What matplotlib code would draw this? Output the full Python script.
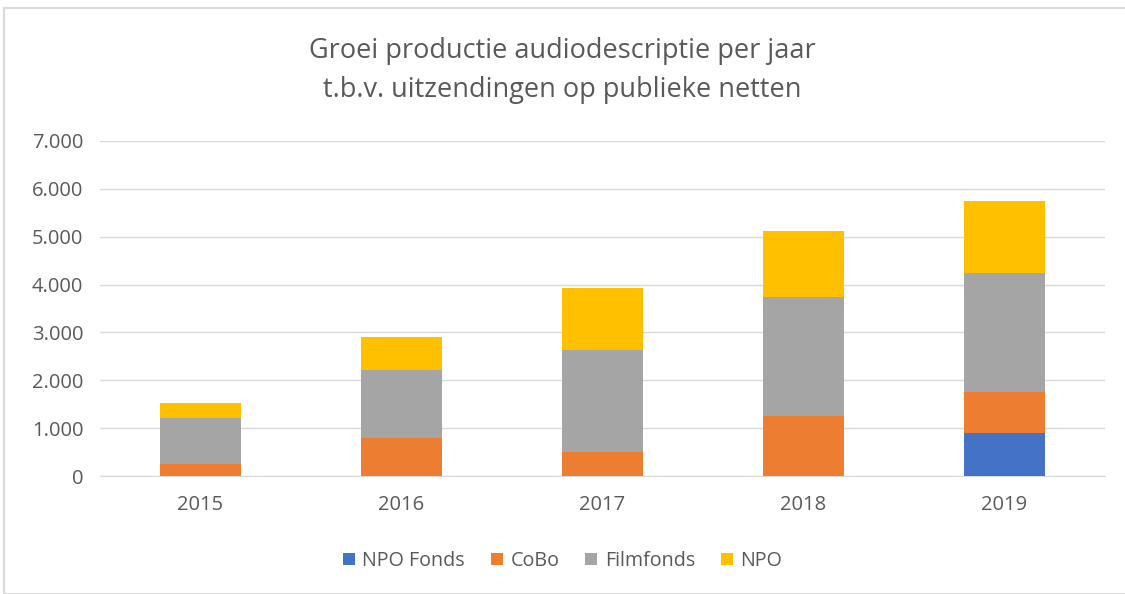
import matplotlib.pyplot as plt
import numpy as np
from matplotlib.patches import Rectangle

plt.rcParams['font.family'] = ['Open Sans', 'DejaVu Sans']

jaren = ['2015', '2016', '2017', '2018', '2019']
npo_fonds = [0, 0, 0, 0, 890]
cobo = [245, 800, 510, 1260, 860]
filmfonds = [965, 1420, 2120, 2470, 2490]
npo = [320, 680, 1290, 1390, 1500]

series = [('NPO Fonds', npo_fonds, '#4472C4'),
          ('CoBo', cobo, '#ED7D31'),
          ('Filmfonds', filmfonds, '#A5A5A5'),
          ('NPO', npo, '#FFC000')]

fig = plt.figure(figsize=(11.25, 5.94), dpi=100)
ax = fig.add_axes([100 / 1125, 1 - 476 / 594, 1005 / 1125, 335 / 594])

x = np.arange(len(jaren))
bottom = np.zeros(len(jaren))
for naam, waarden, kleur in series:
    ax.bar(x, waarden, width=0.4, bottom=bottom, color=kleur, label=naam, zorder=3)
    bottom += np.array(waarden)

ax.set_xlim(-0.5, 4.5)
ax.set_ylim(0, 7000)
ax.set_yticks(range(0, 7001, 1000))
ax.set_yticklabels(['{:,}'.format(v).replace(',', '.') for v in range(0, 7001, 1000)])
ax.set_xticks(x)
ax.set_xticklabels(jaren)
ax.tick_params(axis='both', length=0, labelsize=14.5, colors='#595959')
ax.tick_params(axis='x', pad=14)
ax.tick_params(axis='y', pad=12)
ax.grid(axis='y', color='#D9D9D9', linewidth=1, zorder=0)
for s in ['top', 'right', 'left']:
    ax.spines[s].set_visible(False)
ax.spines['bottom'].set_color('#D9D9D9')

fig.text(0.5, 1 - 51 / 594, 'Groei productie audiodescriptie per jaar', ha='center', va='center',
         fontsize=19.5, color='#595959')
fig.text(0.5, 1 - 90 / 594, 't.b.v. uitzendingen op publieke netten', ha='center', va='center',
         fontsize=19.5, color='#595959')

fig.legend(loc='center', bbox_to_anchor=(0.5, 1 - 561 / 594), ncol=4, frameon=False,
           fontsize=14.2, handlelength=0.6, handleheight=0.6, columnspacing=1.3,
           handletextpad=0.4, labelcolor='#595959')

# kader rond de grafiek
fig.patches.append(Rectangle((4 / 1125, 0), 1.2, 1 - 8 / 594, transform=fig.transFigure,
                             fill=False, edgecolor='#D9D9D9', linewidth=1.5))

fig.savefig('out.png', dpi=100)
